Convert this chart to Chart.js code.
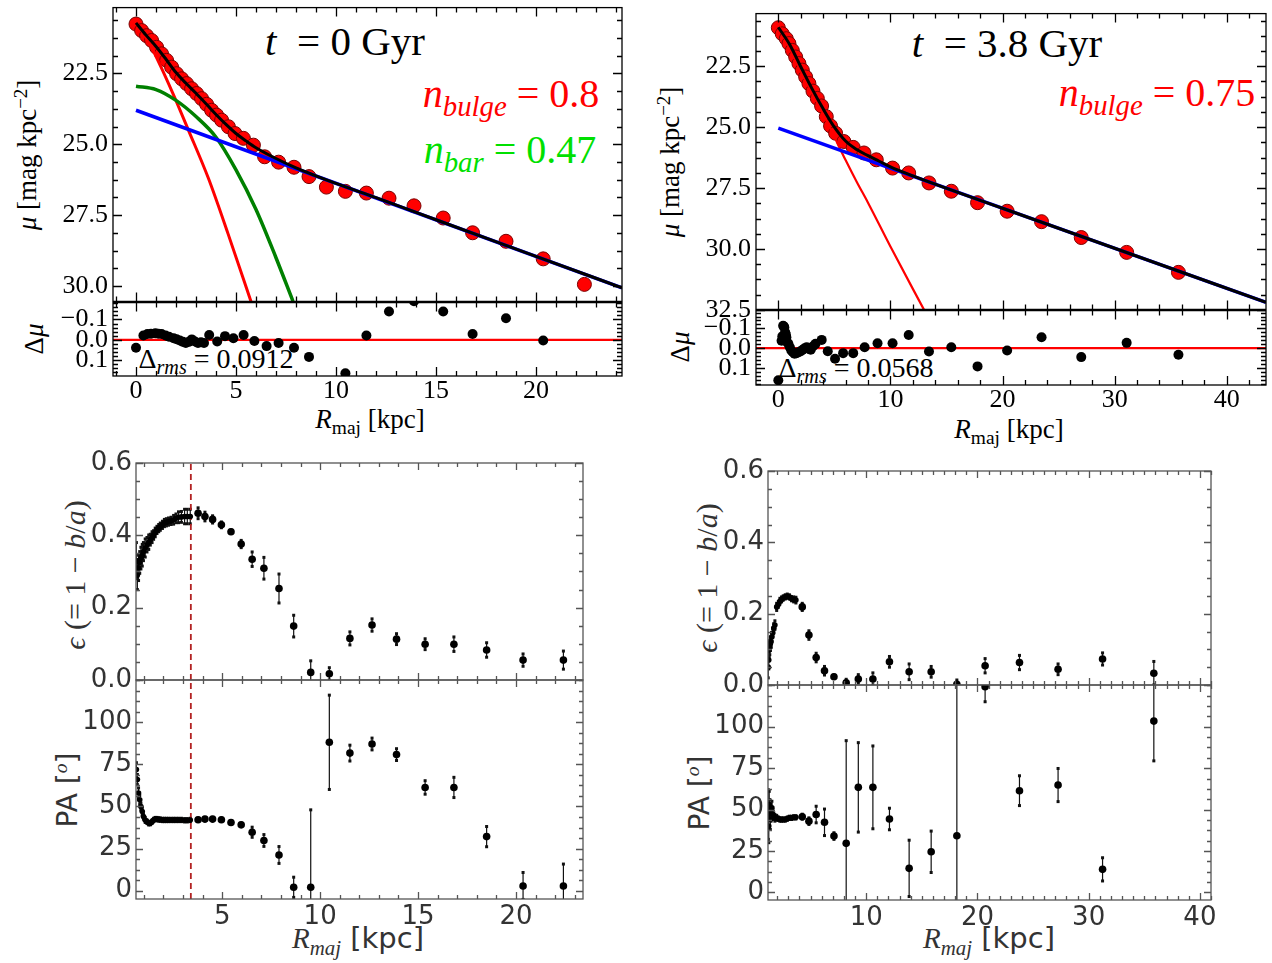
<!DOCTYPE html>
<html lang="es">
<head>
<meta charset="utf-8">
<title>Perfiles de brillo, elipticidad y PA</title>
<script src="https://cdn.jsdelivr.net/npm/chart.js@4.4.1/dist/chart.umd.min.js"></script>
<style>
  body { margin: 0; background: #fff; }
  #lienzo { position: relative; width: 1272px; height: 963px; overflow: hidden; background: #fff; }
  #lienzo canvas { position: absolute; }
  .et { position: absolute; white-space: nowrap; line-height: 1; transform: translate(-50%, -50%); }
  .et.rot { transform: translate(-50%, -50%) rotate(-90deg); }
  .serif { font-family: "Liberation Serif", "Times New Roman", serif; color: #000; }
  .sans { font-family: "DejaVu Sans", sans-serif; color: #333; }
  .cm { font-family: "Liberation Serif", serif; }
  .sb { font-size: 0.72em; position: relative; top: 0.32em; }
  .sp { font-size: 0.7em; position: relative; top: -0.5em; }
</style>
</head>
<body>
<div id="lienzo">
  <!-- t = 0 Gyr -->
  <div class="et serif" style="left:345px;top:41px;font-size:41px"><i>t</i>&nbsp;&nbsp;= 0 Gyr</div>
  <div class="et serif" style="left:511px;top:94px;font-size:40px;color:#ff0000"><i>n<span class="sb">bulge</span></i> = 0.8</div>
  <div class="et serif" style="left:510px;top:150px;font-size:40px;color:#00e000"><i>n<span class="sb">bar</span></i> = 0.47</div>
  <div class="et serif rot" style="left:27px;top:155px;font-size:27px"><i>μ</i> [mag kpc<span class="sp">−2</span>]</div>
  <div class="et serif rot" style="left:34px;top:339px;font-size:27px">Δ<i>μ</i></div>
  <div class="et serif" style="left:216px;top:359px;font-size:28px">Δ<span class="sb"><i>rms</i></span> = 0.0912</div>
  <div class="et serif" style="left:370px;top:419px;font-size:27px"><i>R</i><span class="sb">maj</span> [kpc]</div>

  <!-- t = 3.8 Gyr -->
  <div class="et serif" style="left:1007px;top:43px;font-size:41px"><i>t</i>&nbsp;&nbsp;= 3.8 Gyr</div>
  <div class="et serif" style="left:1157px;top:93px;font-size:40px;color:#ff0000"><i>n<span class="sb">bulge</span></i> = 0.75</div>
  <div class="et serif rot" style="left:670px;top:162px;font-size:27px"><i>μ</i> [mag kpc<span class="sp">−2</span>]</div>
  <div class="et serif rot" style="left:680px;top:347px;font-size:27px">Δ<i>μ</i></div>
  <div class="et serif" style="left:856px;top:368px;font-size:28px">Δ<span class="sb"><i>rms</i></span> = 0.0568</div>
  <div class="et serif" style="left:1009px;top:429px;font-size:27px"><i>R</i><span class="sb">maj</span> [kpc]</div>

  <!-- elipticidad y PA -->
  <div class="et sans rot" style="left:75px;top:575px;font-size:30px"><span class="cm"><i>ϵ</i> (= 1 − <i>b</i>/<i>a</i>)</span></div>
  <div class="et sans rot" style="left:68px;top:790px;font-size:28px">PA [<span class="sp cm"><i>o</i></span>]</div>
  <div class="et sans" style="left:358px;top:938px;font-size:29px"><span class="cm"><i>R</i><span class="sb"><i>maj</i></span></span> [kpc]</div>
  <div class="et sans rot" style="left:707px;top:578px;font-size:30px"><span class="cm"><i>ϵ</i> (= 1 − <i>b</i>/<i>a</i>)</span></div>
  <div class="et sans rot" style="left:700px;top:793px;font-size:28px">PA [<span class="sp cm"><i>o</i></span>]</div>
  <div class="et sans" style="left:989px;top:938px;font-size:29px"><span class="cm"><i>R</i><span class="sb"><i>maj</i></span></span> [kpc]</div>
</div>

<script>
/* =====================================
   DATOS  t = 0 Gyr  (perfil de brillo)
===================================== */
const rA = [0, 0.28, 0.53, 0.78, 1.03, 1.28, 1.53, 1.78, 2.03, 2.28, 2.53, 2.78, 3.03, 3.28, 3.53, 3.78, 4.03, 4.28, 4.62, 4.95,
            5.37, 5.87, 6.43, 7.13, 7.9, 8.65, 9.52, 10.47, 11.52, 12.65, 13.9, 15.36, 16.83, 18.5, 20.36, 22.42];
const muA = [20.76, 20.99, 21.17, 21.34, 21.58, 21.81, 22.04, 22.28, 22.51, 22.69, 22.86, 23.04, 23.21, 23.39, 23.59, 23.8, 23.97, 24.15, 24.38, 24.62,
             24.79, 25.03, 25.44, 25.63, 25.81, 26.14, 26.51, 26.66, 26.72, 26.9, 27.17, 27.6, 28.12, 28.42, 29.04, 29.94];

// curvas del ajuste
const rTotalA = [0, 0.5, 1, 1.5, 2, 2.5, 3, 3.5, 4, 4.5, 5, 5.5, 6, 7, 8, 10, 12, 15, 20, 24.3];
const muTotalA = [20.72, 21.15, 21.55, 22.0, 22.47, 22.85, 23.2, 23.57, 23.95, 24.3, 24.62, 24.88, 25.12, 25.5, 25.83, 26.38, 26.88, 27.66, 28.95, 30.06];
const rBulgeA = [0, 0.6, 1.2, 1.87, 2.62, 3.62, 4.6, 5.75];
const muBulgeA = [20.7, 21.35, 22.2, 23.25, 24.5, 26.2, 28.15, 30.54];
const rBarA = [0, 1, 2, 3, 4, 5, 6, 7, 7.85];
const muBarA = [22.95, 23.07, 23.45, 24.02, 24.75, 25.9, 27.3, 29.0, 30.54];
const rDiscoA = [0, 24.3];
const muDiscoA = [23.8, 30.06];

// residuos
const rResA = [0, 0.37, 0.57, 0.75, 0.97, 1.12, 1.28, 1.48, 1.65, 1.88, 2.03, 2.19, 2.35, 2.49, 2.64, 2.79, 2.95, 3.1, 3.25, 3.4,
               3.66, 4.06, 4.45, 4.87, 5.38, 5.92, 6.53, 7.13, 7.9, 8.65, 10.47, 11.52, 12.65, 13.9, 15.36, 16.83, 18.5, 20.36];
const dResA = [0.039, -0.021, -0.029, -0.03, -0.032, -0.03, -0.029, -0.021, -0.015, -0.008, -0.003, 0.003, 0.01, 0.016, 0.01, -0.002, 0.008, 0.016, 0.012, 0.016,
               -0.024, 0.008, -0.018, -0.008, -0.024, 0.006, 0.031, 0.016, 0.039, 0.084, 0.165, -0.021, -0.139, -0.19, -0.139, -0.029, -0.106, 0.003];

/* =====================================
   DATOS  t = 3.8 Gyr
===================================== */
const rB = [0, 0.35, 0.71, 0.95, 1.25, 1.55, 1.84, 2.14, 2.44, 2.73, 3.09, 3.48, 3.86, 4.28, 4.66, 5.11, 5.85, 6.68, 7.64, 8.74,
            10.19, 11.63, 13.44, 15.43, 17.77, 20.41, 23.48, 27.02, 31.07, 35.69];
const muB = [20.92, 21.17, 21.37, 21.57, 21.85, 22.12, 22.39, 22.66, 22.94, 23.21, 23.52, 23.82, 24.13, 24.57, 24.95, 25.25, 25.59, 25.83, 26.06, 26.34,
             26.68, 26.88, 27.29, 27.63, 28.1, 28.45, 28.88, 29.53, 30.14, 30.96];

const rTotalB = [0, 1, 2, 3, 4, 5, 6, 7, 8, 9, 10, 12, 20, 30, 43.5];
const muTotalB = [20.9, 21.6, 22.52, 23.42, 24.25, 25.0, 25.57, 25.92, 26.17, 26.4, 26.63, 27.0, 28.33, 29.97, 32.19];
const rBulgeB = [0, 1, 2, 3, 4, 5, 6, 7, 8, 10, 13];
const muBulgeB = [20.8, 21.75, 22.7, 23.6, 24.45, 25.4, 26.35, 27.25, 28.1, 29.9, 32.5];
const rDiscoB = [0, 43.5];
const muDiscoB = [25.04, 32.19];

const rResB = [0, 0.29, 0.36, 0.43, 0.5, 0.54, 0.61, 0.67, 0.72, 0.79, 0.9, 1.03, 1.16, 1.3, 1.45, 1.62, 1.81, 2.0, 2.17, 2.35,
               2.53, 2.7, 2.89, 3.1, 3.32, 3.87, 4.41, 5.06, 5.78, 6.68, 7.7, 8.85, 10.19, 11.63, 13.44, 15.43, 17.77, 20.41, 23.48, 27.02,
               31.07, 35.69];
const dResB = [0.162, -0.038, -0.06, -0.113, -0.11, -0.105, -0.08, -0.07, -0.055, -0.03, -0.022, -0.005, 0.012, 0.02, 0.028, 0.025, 0.02, 0.015, 0.008, 0.0,
               -0.005, 0.003, 0.008, -0.01, -0.022, -0.042, 0.015, 0.053, 0.025, 0.025, -0.005, -0.025, -0.025, -0.067, 0.017, -0.005, 0.092, 0.012, -0.055, 0.045,
               -0.027, 0.033];

/* =====================================
   ELIPTICIDAD Y PA  t = 0 Gyr
===================================== */
const rC = [0.62, 0.67, 0.73, 0.79, 0.85, 0.92, 0.98, 1.07, 1.16, 1.25, 1.33, 1.42, 1.5, 1.58, 1.67, 1.76, 1.84, 1.95, 2.05, 2.15,
            2.26, 2.39, 2.52, 2.64, 2.77, 2.92, 3.08, 3.22, 3.37, 3.77, 4.12, 4.51, 4.96, 5.45, 5.97, 6.53, 7.13, 7.9, 8.65, 9.52,
            10.47, 11.52, 12.65, 13.9, 15.36, 16.83, 18.5, 20.36, 22.42];
const epsC = [0.33, 0.29, 0.31, 0.325, 0.337, 0.345, 0.355, 0.365, 0.374, 0.381, 0.388, 0.395, 0.401, 0.408, 0.415, 0.42, 0.424, 0.429, 0.434, 0.436,
              0.438, 0.44, 0.443, 0.447, 0.45, 0.451, 0.452, 0.452, 0.452, 0.461, 0.452, 0.444, 0.429, 0.41, 0.376, 0.334, 0.309, 0.253, 0.149, 0.021,
              0.017, 0.115, 0.152, 0.113, 0.099, 0.099, 0.083, 0.055, 0.055];
const epsErrC = [0.05, 0.04, 0.035, 0.03, 0.03, 0.03, 0.025, 0.025, 0.02, 0.02, 0.015, 0.015, 0.012, 0.012, 0.01, 0.01, 0.01, 0.01, 0.01, 0.01,
                 0.01, 0.01, 0.012, 0.012, 0.015, 0.015, 0.02, 0.02, 0.02, 0.015, 0.012, 0.01, 0.008, 0.005, 0.01, 0.02, 0.03, 0.04, 0.03, 0.032,
                 0.017, 0.018, 0.017, 0.015, 0.015, 0.02, 0.02, 0.017, 0.025];
const paC = [72, 66, 58, 54, 50, 47, 44, 42, 41, 40, 40.1, 41, 42, 42.5, 42.5, 42.3, 42.2, 42, 42, 42,
             42, 42, 42, 42, 42, 42, 41.8, 41.8, 42, 42.1, 42.5, 42.5, 42.1, 40.5, 39.1, 34.7, 29.8, 21.2, 2, 2,
             88.1, 81.7, 87.1, 80.8, 61.3, 61.3, 32.1, 2.8, 2.8];
const paErrC = [4, 3, 3, 2.5, 2, 2, 1.5, 1.5, 1, 1, 1, 1, 1, 1, 1, 1, 1, 1, 1, 1,
                1, 1, 1, 1, 1, 1, 1, 1, 1, 1, 1, 1, 1, 0.5, 1, 3, 3.5, 5, 6, 46,
                28, 4.7, 3.5, 3.5, 4, 6, 6, 8, 13];
const rBarraC = 3.4; // radio de la barra (linea discontinua)

/* =====================================
   ELIPTICIDAD Y PA  t = 3.8 Gyr
===================================== */
const rD = [1.19, 1.24, 1.28, 1.33, 1.38, 1.44, 1.52, 1.59, 1.69, 1.79, 1.95, 2.1, 2.24, 2.39, 2.54, 2.72, 2.9, 3.09, 3.29, 3.48,
            3.68, 4.25, 4.85, 5.5, 6.25, 7.1, 8.2, 9.29, 10.6, 12.09, 13.86, 15.84, 18.15, 20.69, 23.78, 27.25, 31.25, 35.86];
const epsD = [0.05, 0.07, 0.098, 0.105, 0.115, 0.121, 0.135, 0.146, 0.16, 0.168, 0.219, 0.226, 0.235, 0.24, 0.244, 0.247, 0.249, 0.247, 0.242, 0.24,
              0.238, 0.219, 0.14, 0.077, 0.04, 0.023, 0.006, 0.017, 0.017, 0.065, 0.037, 0.037, 0.002, 0.054, 0.063, 0.044, 0.073, 0.033];
const epsErrD = [0.03, 0.025, 0.02, 0.02, 0.018, 0.015, 0.012, 0.012, 0.012, 0.012, 0.01, 0.008, 0.008, 0.007, 0.006, 0.006, 0.006, 0.006, 0.006, 0.007,
                 0.008, 0.01, 0.012, 0.012, 0.012, 0.005, 0.01, 0.012, 0.017, 0.015, 0.022, 0.015, 0.012, 0.02, 0.02, 0.015, 0.017, 0.033];
const paD = [47, 40, 53, 50, 44, 48, 51, 47, 46, 45, 45, 44.5, 44, 44, 44, 44, 44.5, 45, 45, 45.3,
             45.3, 45.7, 43, 47, 42.3, 34, 29.6, 63.4, 63.4, 44.3, 14.5, 24.5, 34.2, 124.1, 61.4, 64.8, 13.9, 103.4];
const paErrD = [15, 10, 8, 6, 6, 5, 4, 3, 2, 2, 1.5, 1, 1, 1, 1, 1, 1, 1, 1, 1,
                1, 1.5, 2, 5, 8, 2, 62, 27, 25, 6.5, 17, 12.5, 100, 9, 9, 10, 7, 24];

/* =====================================
   EJES: rangos y marcas
===================================== */
const xLimA = [-1.15, 24.3], xTicksA = [0, 5, 10, 15, 20];
const yLimA = [20.18, 30.54], muTicksA = [22.5, 25.0, 27.5, 30.0];
const xLimB = [-1.99, 43.5], xTicksB = [0, 10, 20, 30, 40];
const yLimB = [20.34, 32.48], muTicksB = [22.5, 25.0, 27.5, 30.0, 32.5];
const resLimA = [-0.183, 0.178], resLimB = [-0.19, 0.186], resTicks = [-0.1, 0.0, 0.1];
const xLimC = [0.6, 23.42], xTicksC = [5, 10, 15, 20];
const xLimD = [1.17, 41.0], xTicksD = [10, 20, 30, 40];
const epsLim = [0, 0.6], epsTicks = [0.0, 0.2, 0.4, 0.6];
const paLimC = [-4.94, 125.1], paLimD = [-4.6, 125.2], paTicks = [0, 25, 50, 75, 100];

/* =====================================
   PLUGINS: marco con marcas hacia dentro y barras de error
===================================== */
function valoresPaso(min, max, paso) {
    const out = [];
    const i0 = Math.ceil(min / paso - 1e-9), i1 = Math.floor(max / paso + 1e-9);
    for (let i = i0; i <= i1; i++) out.push(i * paso);
    return out;
}

const marcoPlugin = {
    id: 'marco',
    afterDraw(chart, args, o) {
        const { ctx, chartArea: a } = chart;
        const sx = chart.scales.x, sy = chart.scales.y;
        ctx.save();
        ctx.strokeStyle = o.color;
        ctx.lineWidth = o.ancho;
        ctx.strokeRect(a.left, a.top, a.right - a.left, a.bottom - a.top);
        ctx.beginPath();
        const marcasX = (vals, largo) => vals.forEach(v => {
            const px = Math.round(sx.getPixelForValue(v)) + 0.5;
            ctx.moveTo(px, a.bottom); ctx.lineTo(px, a.bottom - largo);
            ctx.moveTo(px, a.top); ctx.lineTo(px, a.top + largo);
        });
        const marcasY = (vals, largo) => vals.forEach(v => {
            const py = Math.round(sy.getPixelForValue(v)) + 0.5;
            ctx.moveTo(a.left, py); ctx.lineTo(a.left + largo, py);
            ctx.moveTo(a.right, py); ctx.lineTo(a.right - largo, py);
        });
        marcasX(valoresPaso(sx.min, sx.max, o.xMenor), o.corto);
        marcasX(o.xMayor, o.largo);
        marcasY(valoresPaso(sy.min, sy.max, o.yMenor), o.corto);
        marcasY(o.yMayor, o.largo);
        ctx.stroke();
        ctx.restore();
    }
};

const barrasPlugin = {
    id: 'barras',
    beforeDatasetsDraw(chart) {
        const { ctx, chartArea: a } = chart;
        const sx = chart.scales.x, sy = chart.scales.y;
        ctx.save();
        ctx.beginPath();
        ctx.rect(a.left, a.top, a.right - a.left, a.bottom - a.top);
        ctx.clip();
        chart.data.datasets.forEach(ds => {
            if (!ds.barras) return;
            ctx.strokeStyle = '#111';
            ctx.fillStyle = '#111';
            ctx.lineWidth = 1.2;
            ds.data.forEach(p => {
                const x = sx.getPixelForValue(p.x);
                const y1 = sy.getPixelForValue(p.y - p.e);
                const y2 = sy.getPixelForValue(p.y + p.e);
                ctx.beginPath();
                ctx.moveTo(x, y1); ctx.lineTo(x, y2);
                ctx.stroke();
                ctx.fillRect(x - 1.5, y1 - 1.5, 3, 3);
                ctx.fillRect(x - 1.5, y2 - 1.5, 3, 3);
            });
        });
        ctx.restore();
    }
};

/* =====================================
   ESTILOS
===================================== */
const estiloSup = {
    fuente: { family: 'Liberation Serif', size: 26 }, texto: '#000',
    marco: '#000', anchoMarco: 1.3, largo: 9, corto: 5, padX: 0, padY: 5
};
const estiloInf = {
    fuente: { family: 'DejaVu Sans', size: 26 }, texto: '#333',
    marco: '#555', anchoMarco: 1.3, largo: 7, corto: 4, padX: 3, padY: 4
};

const PAD = 20;

function crearPanel(cfg) {
    const { caja, anchoY, altoX, estilo } = cfg;
    const c = document.createElement('canvas');
    const w = caja.r - caja.l + anchoY + 2 * PAD;
    const h = caja.b - caja.t + altoX + 2 * PAD;
    c.width = w;
    c.height = h;
    c.style.left = (caja.l - anchoY - PAD) + 'px';
    c.style.top = (caja.t - PAD) + 'px';
    c.style.width = w + 'px';
    c.style.height = h + 'px';
    document.getElementById('lienzo').appendChild(c);

    new Chart(c, {
        type: 'scatter',
        data: { datasets: cfg.datasets },
        options: {
            responsive: false,
            animation: false,
            devicePixelRatio: 1,
            layout: { padding: PAD },
            plugins: {
                legend: { display: false },
                tooltip: { enabled: false },
                marco: {
                    color: estilo.marco, ancho: estilo.anchoMarco, largo: estilo.largo, corto: estilo.corto,
                    xMayor: cfg.x.ticks, xMenor: cfg.x.menor, yMayor: cfg.y.ticks, yMenor: cfg.y.menor
                }
            },
            scales: {
                x: {
                    type: 'linear', min: cfg.x.lim[0], max: cfg.x.lim[1],
                    grid: { display: false, drawTicks: false },
                    border: { display: false },
                    ticks: {
                        display: cfg.x.etiquetas, autoSkip: false, maxRotation: 0,
                        padding: estilo.padX, font: estilo.fuente, color: estilo.texto,
                        callback: v => String(v)
                    },
                    afterBuildTicks: s => { s.ticks = cfg.x.ticks.map(v => ({ value: v })); },
                    afterFit: s => { s.height = altoX; }
                },
                y: {
                    type: 'linear', min: cfg.y.lim[0], max: cfg.y.lim[1], reverse: !!cfg.y.invertido,
                    grid: { display: false, drawTicks: false },
                    border: { display: false },
                    ticks: {
                        autoSkip: false, padding: estilo.padY, font: estilo.fuente, color: estilo.texto,
                        callback: cfg.y.fmt
                    },
                    afterBuildTicks: s => { s.ticks = cfg.y.ticks.map(v => ({ value: v })); },
                    afterFit: s => { s.width = anchoY; }
                }
            }
        },
        plugins: [marcoPlugin, barrasPlugin]
    });
}

/* helpers de formato y datasets */
const fmt1 = v => v.toFixed(1);
const fmtRes = v => (v < 0 ? '\u2212' : '') + Math.abs(v).toFixed(1);
const fmtEnt = v => String(Math.round(v));
const zip = (xs, ys) => xs.map((x, i) => ({ x: x, y: ys[i] }));
const zipErr = (xs, ys, es) => xs.map((x, i) => ({ x: x, y: ys[i], e: es[i] }));

function curva(xs, ys, color, ancho, orden) {
    return {
        data: zip(xs, ys), showLine: true, pointRadius: 0, borderColor: color, borderWidth: ancho,
        cubicInterpolationMode: 'monotone', fill: false, clip: 0, order: orden
    };
}
function puntosPerfil(xs, ys) {
    return {
        data: zip(xs, ys), pointRadius: 7, backgroundColor: '#ff0000', borderColor: '#7a0000',
        borderWidth: 1, clip: 0, order: 10
    };
}
function puntosRes(xs, ys) {
    return { data: zip(xs, ys), pointRadius: 5, backgroundColor: '#000', borderWidth: 0, clip: 0, order: 1 };
}
function lineaCero(lim) {
    return curva(lim, [0, 0], '#ff0000', 2.2, 5);
}
function puntosErr(xs, ys, es, rInterior) {
    return {
        data: zipErr(xs, ys, es), barras: true, backgroundColor: '#000', borderWidth: 0, clip: 0, order: 1,
        pointRadius: ctx => (ctx.raw && ctx.raw.x < rInterior ? 2.8 : 3.8)
    };
}
function lineaBarra(r, lim) {
    return {
        data: [{ x: r, y: lim[0] }, { x: r, y: lim[1] }], showLine: true, pointRadius: 0,
        borderColor: '#b22222', borderWidth: 1.8, borderDash: [6, 4], clip: 0, order: 5
    };
}

/* =====================================
   PANELES
===================================== */
// t = 0 Gyr, perfil
crearPanel({
    caja: { l: 113, t: 7, r: 622, b: 302 }, anchoY: 90, altoX: 0, estilo: estiloSup,
    x: { lim: xLimA, ticks: xTicksA, menor: 1, etiquetas: false },
    y: { lim: yLimA, ticks: muTicksA, menor: 0.625, invertido: true, fmt: fmt1 },
    datasets: [
        puntosPerfil(rA, muA),
        curva(rBulgeA, muBulgeA, '#ff0000', 3, 4),
        curva(rBarA, muBarA, '#008000', 3.5, 3),
        curva(rDiscoA, muDiscoA, '#0000ff', 3.5, 2),
        curva(rTotalA, muTotalA, '#000000', 3, 1)
    ]
});
crearPanel({
    caja: { l: 113, t: 302, r: 622, b: 376 }, anchoY: 90, altoX: 40, estilo: estiloSup,
    x: { lim: xLimA, ticks: xTicksA, menor: 1, etiquetas: true },
    y: { lim: resLimA, ticks: resTicks, menor: 0.02, invertido: true, fmt: fmtRes },
    datasets: [lineaCero(xLimA), puntosRes(rResA, dResA)]
});

// t = 3.8 Gyr, perfil
crearPanel({
    caja: { l: 756, t: 13, r: 1266, b: 310 }, anchoY: 90, altoX: 0, estilo: estiloSup,
    x: { lim: xLimB, ticks: xTicksB, menor: 2, etiquetas: false },
    y: { lim: yLimB, ticks: muTicksB, menor: 0.625, invertido: true, fmt: fmt1 },
    datasets: [
        puntosPerfil(rB, muB),
        curva(rBulgeB, muBulgeB, '#ff0000', 2.2, 4),
        curva(rDiscoB, muDiscoB, '#0000ff', 3.5, 2),
        curva(rTotalB, muTotalB, '#000000', 3, 1)
    ]
});
crearPanel({
    caja: { l: 756, t: 310, r: 1266, b: 385 }, anchoY: 90, altoX: 40, estilo: estiloSup,
    x: { lim: xLimB, ticks: xTicksB, menor: 2, etiquetas: true },
    y: { lim: resLimB, ticks: resTicks, menor: 0.02, invertido: true, fmt: fmtRes },
    datasets: [lineaCero(xLimB), puntosRes(rResB, dResB)]
});

// t = 0 Gyr, elipticidad y PA
crearPanel({
    caja: { l: 136, t: 463, r: 583, b: 680 }, anchoY: 80, altoX: 0, estilo: estiloInf,
    x: { lim: xLimC, ticks: xTicksC, menor: 1, etiquetas: false },
    y: { lim: epsLim, ticks: epsTicks, menor: 0.05, fmt: fmt1 },
    datasets: [puntosErr(rC, epsC, epsErrC, 3.5), lineaBarra(rBarraC, epsLim)]
});
crearPanel({
    caja: { l: 136, t: 680, r: 583, b: 899 }, anchoY: 80, altoX: 40, estilo: estiloInf,
    x: { lim: xLimC, ticks: xTicksC, menor: 1, etiquetas: true },
    y: { lim: paLimC, ticks: paTicks, menor: 6.25, fmt: fmtEnt },
    datasets: [puntosErr(rC, paC, paErrC, 3.5), lineaBarra(rBarraC, paLimC)]
});

// t = 3.8 Gyr, elipticidad y PA
crearPanel({
    caja: { l: 768, t: 471, r: 1211, b: 685 }, anchoY: 80, altoX: 0, estilo: estiloInf,
    x: { lim: xLimD, ticks: xTicksD, menor: 1, etiquetas: false },
    y: { lim: epsLim, ticks: epsTicks, menor: 0.05, fmt: fmt1 },
    datasets: [puntosErr(rD, epsD, epsErrD, 4.0)]
});
crearPanel({
    caja: { l: 768, t: 685, r: 1211, b: 900 }, anchoY: 80, altoX: 40, estilo: estiloInf,
    x: { lim: xLimD, ticks: xTicksD, menor: 1, etiquetas: true },
    y: { lim: paLimD, ticks: paTicks, menor: 6.25, fmt: fmtEnt },
    datasets: [puntosErr(rD, paD, paErrD, 4.0)]
});
</script>
</body>
</html>
